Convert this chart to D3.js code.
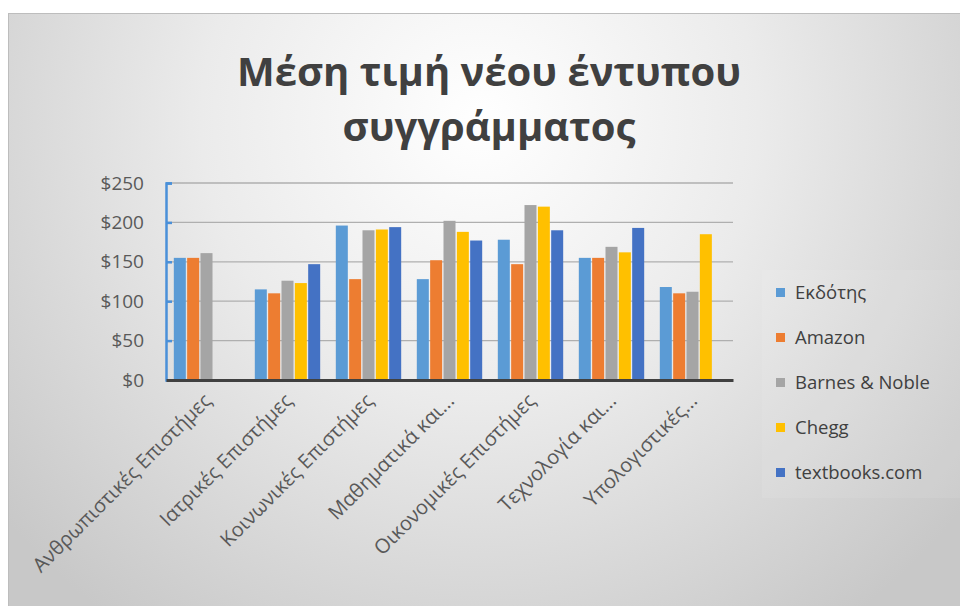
<!DOCTYPE html>
<html>
<head>
<meta charset="utf-8">
<script src="https://cdn.jsdelivr.net/npm/d3@7"></script>
<style>
  body { margin: 0; background: #fff; }
  text { font-family: "Open Sans", "Noto Sans", sans-serif; }
</style>
</head>
<body>
<script>
// categories and series
var categories = ["Ανθρωπιστικές Επιστήμες", "Ιατρικές Επιστήμες", "Κοινωνικές Επιστήμες",
                  "Μαθηματικά και...", "Οικονομικές Επιστήμες", "Τεχνολογία και...", "Υπολογιστικές..."];
var seriesNames = ["Εκδότης", "Amazon", "Barnes & Noble", "Chegg", "textbooks.com"];
var ekdotis   = [155, 115, 196, 128, 178, 155, 118];
var amazon    = [155, 110, 128, 152, 147, 155, 110];
var barnes    = [161, 126, 190, 202, 222, 169, 112];
var chegg     = [null, 123, 191, 188, 220, 162, 185];
var textbooks = [null, 147, 194, 177, 190, 193, null];
var yTicks = [0, 50, 100, 150, 200, 250];
var colors = ["#5B9BD5", "#ED7D31", "#A5A5A5", "#FFC000", "#4472C4"];

var allSeries = [ekdotis, amazon, barnes, chegg, textbooks];

var width = 960, height = 606;
var plot = {left: 166, right: 733, top: 183, bottom: 380};

var svg = d3.select("body").append("svg")
            .attr("width", width)
            .attr("height", height);

// background gradient like the office chart
var defs = svg.append("defs");
var grad = defs.append("radialGradient")
               .attr("id", "bg")
               .attr("gradientUnits", "userSpaceOnUse")
               .attr("cx", 480).attr("cy", 120).attr("r", 620);
grad.append("stop").attr("offset", "0%").attr("stop-color", "#ffffff");
grad.append("stop").attr("offset", "45%").attr("stop-color", "#ebebeb");
grad.append("stop").attr("offset", "100%").attr("stop-color", "#c8c8c8");

svg.append("rect")
   .attr("x", 8.5).attr("y", 13.5)
   .attr("width", width).attr("height", height)
   .attr("fill", "url(#bg)")
   .attr("stroke", "#bdbdbd");

// title
var title = svg.append("text")
   .attr("x", 489)
   .attr("text-anchor", "middle")
   .attr("font-size", 40)
   .attr("font-weight", "bold")
   .attr("fill", "#404040");
title.append("tspan").attr("x", 489).attr("y", 86).text("Μέση τιμή νέου έντυπου");
title.append("tspan").attr("x", 489).attr("y", 141).text("συγγράμματος");

// scales
var x0 = d3.scaleBand()
           .domain(categories)
           .range([plot.left, plot.right])
           .paddingInner(0.16)
           .paddingOuter(0.08);

var x1 = d3.scaleBand()
           .domain(d3.range(seriesNames.length))
           .range([0, x0.bandwidth()])
           .padding(0.1);

var y = d3.scaleLinear()
          .domain([0, 250])
          .range([plot.bottom, plot.top]);

// gridlines
svg.append("g")
   .selectAll("line")
   .data(yTicks.filter(function(d) { return d > 0; }))
   .enter()
   .append("line")
   .attr("x1", plot.left).attr("x2", plot.right)
   .attr("y1", function(d) { return y(d); })
   .attr("y2", function(d) { return y(d); })
   .attr("stroke", "#afafaf")
   .attr("stroke-width", 1.3);

// bars
var groups = svg.append("g")
   .selectAll("g")
   .data(categories)
   .enter()
   .append("g")
   .attr("transform", function(d) { return "translate(" + x0(d) + ",0)"; });

groups.selectAll("rect")
   .data(function(d, i) {
     return allSeries.map(function(s, j) { return {s: j, v: s[i]}; })
                     .filter(function(e) { return e.v != null; });
   })
   .enter()
   .append("rect")
   .attr("x", function(d) { return x1(d.s); })
   .attr("width", x1.bandwidth())
   .attr("y", function(d) { return y(d.v); })
   .attr("height", function(d) { return plot.bottom - y(d.v); })
   .attr("fill", function(d) { return colors[d.s]; });

// y axis
var yAxis = d3.axisLeft(y)
              .tickValues(yTicks)
              .tickSize(-6)
              .tickPadding(22)
              .tickFormat(function(d) { return "$" + d; });

var gy = svg.append("g")
   .attr("transform", "translate(" + plot.left + ",0)")
   .call(yAxis);
gy.select(".domain").attr("stroke", "#4a90d9").attr("stroke-width", 2.5);
gy.selectAll(".tick line").attr("stroke", "#4a90d9").attr("stroke-width", 2.5);
gy.selectAll(".tick text")
  .attr("font-size", 19)
  .attr("fill", "#595959")
  .style("font-family", "'Open Sans', 'Noto Sans', sans-serif");

// x axis
var xAxis = d3.axisBottom(x0).tickSize(0).tickPadding(0);
var gx = svg.append("g")
   .attr("transform", "translate(0," + plot.bottom + ")")
   .call(xAxis);
gx.select(".domain").attr("stroke", "#404040").attr("stroke-width", 3);
gx.selectAll(".tick text")
  .attr("font-size", 20)
  .attr("fill", "#595959")
  .style("font-family", "'Open Sans', 'Noto Sans', sans-serif")
  .attr("text-anchor", "end")
  .attr("dy", 0)
  .attr("transform", "translate(6,22) rotate(-45)");

// legend
svg.append("rect")
   .attr("x", 762).attr("y", 270)
   .attr("width", 198).attr("height", 228)
   .attr("fill", "#ffffff").attr("fill-opacity", 0.08);

var legend = svg.append("g")
   .selectAll("g")
   .data(seriesNames)
   .enter()
   .append("g")
   .attr("transform", function(d, i) { return "translate(776," + (293 + i * 45) + ")"; });

legend.append("rect")
   .attr("x", 0).attr("y", -5)
   .attr("width", 9).attr("height", 9)
   .attr("fill", function(d, i) { return colors[i]; });

legend.append("text")
   .attr("x", 19).attr("y", 0)
   .attr("dy", "0.35em")
   .attr("font-size", 18.5)
   .attr("fill", "#404040")
   .text(function(d) { return d; });
</script>
</body>
</html>
